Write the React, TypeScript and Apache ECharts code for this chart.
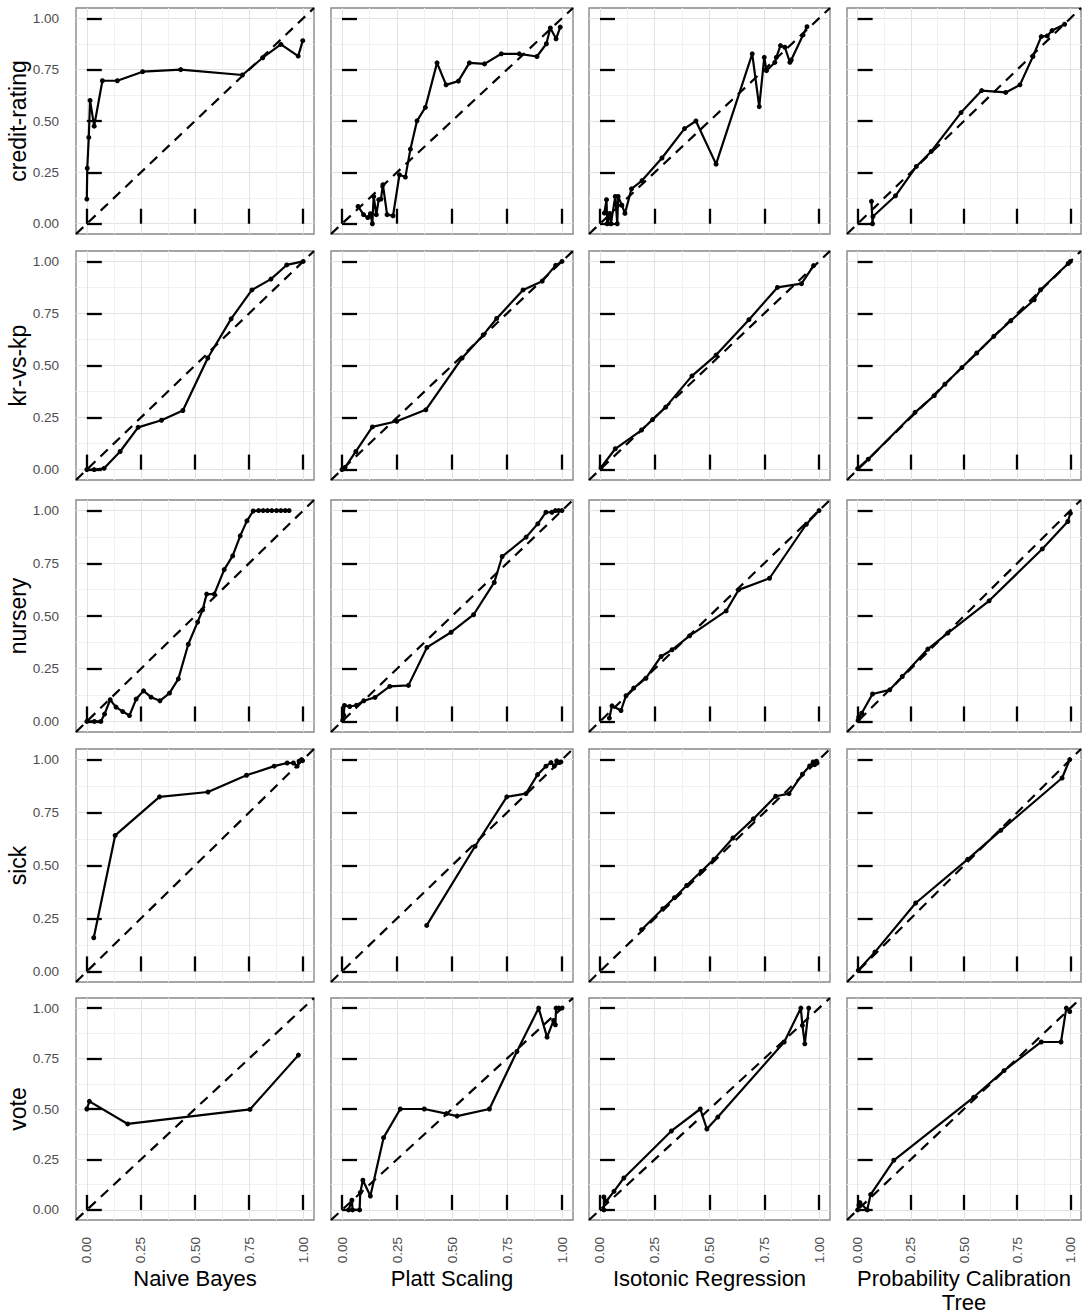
import React, { useEffect, useRef } from "react";
import * as echarts from "echarts";

// ---------- labels ----------
const ROW_NAMES = ["credit-rating", "kr-vs-kp", "nursery", "sick", "vote"];
const COL_NAMES = ["Naive Bayes", "Platt Scaling", "Isotonic Regression", "Probability Calibration\nTree"];
const TICK_VALUES = [0, 0.25, 0.5, 0.75, 1];
const TICK_LABELS = ["0.00", "0.25", "0.50", "0.75", "1.00"];
const MINOR_VALUES = [0.125, 0.375, 0.625, 0.875];
const AXIS_MIN = -0.05;
const AXIS_MAX = 1.05;

// ---------- data: [predicted, observed] ----------
const creditNB = [[0, 0.12], [0.002, 0.27], [0.009, 0.42], [0.015, 0.6], [0.034, 0.475], [0.072, 0.696], [0.141, 0.696], [0.258, 0.74], [0.434, 0.75], [0.719, 0.724], [0.813, 0.808], [0.897, 0.873], [0.977, 0.816], [0.998, 0.891]];
const creditPlatt = [[0.073, 0.084], [0.098, 0.044], [0.117, 0.03], [0.129, 0.049], [0.138, 0.0], [0.144, 0.133], [0.156, 0.044], [0.167, 0.117], [0.177, 0.12], [0.186, 0.19], [0.205, 0.044], [0.232, 0.039], [0.261, 0.238], [0.288, 0.227], [0.311, 0.363], [0.341, 0.501], [0.379, 0.566], [0.432, 0.783], [0.473, 0.676], [0.529, 0.694], [0.579, 0.783], [0.648, 0.778], [0.724, 0.827], [0.806, 0.827], [0.886, 0.814], [0.929, 0.876], [0.947, 0.953], [0.973, 0.9], [0.992, 0.957]];
const creditIso = [[0.02, 0.052], [0.03, 0.117], [0.033, 0.0], [0.045, 0.05], [0.05, 0.0], [0.07, 0.133], [0.079, 0.0], [0.083, 0.133], [0.1, 0.09], [0.114, 0.05], [0.144, 0.17], [0.192, 0.21], [0.283, 0.32], [0.386, 0.463], [0.438, 0.5], [0.53, 0.29], [0.695, 0.827], [0.727, 0.57], [0.75, 0.81], [0.76, 0.745], [0.798, 0.785], [0.805, 0.81], [0.824, 0.867], [0.844, 0.859], [0.867, 0.786], [0.873, 0.797], [0.927, 0.919], [0.945, 0.959]];
const creditPCT = [[0.065, 0.109], [0.07, 0.0], [0.072, 0.035], [0.178, 0.136], [0.276, 0.279], [0.346, 0.352], [0.486, 0.541], [0.583, 0.648], [0.696, 0.639], [0.763, 0.676], [0.824, 0.814], [0.863, 0.911], [0.891, 0.914], [0.914, 0.94], [0.973, 0.971]];

const krNB = [[0, 0], [0.034, 0], [0.08, 0.006], [0.154, 0.087], [0.237, 0.203], [0.345, 0.237], [0.444, 0.284], [0.559, 0.536], [0.667, 0.724], [0.763, 0.863], [0.851, 0.915], [0.924, 0.983], [1.0, 1.0]];
const krPlatt = [[0, 0], [0.014, 0.011], [0.063, 0.087], [0.138, 0.205], [0.249, 0.232], [0.381, 0.287], [0.546, 0.536], [0.642, 0.647], [0.703, 0.726], [0.823, 0.863], [0.91, 0.905], [0.971, 0.981], [1.0, 1.0]];
const krIso = [[0.005, 0.01], [0.07, 0.1], [0.19, 0.19], [0.24, 0.24], [0.3, 0.3], [0.42, 0.45], [0.53, 0.55], [0.68, 0.72], [0.81, 0.875], [0.92, 0.893], [0.975, 0.98]];
const krPCT = [[0, 0.005], [0.05, 0.05], [0.27, 0.275], [0.36, 0.355], [0.41, 0.41], [0.49, 0.49], [0.56, 0.56], [0.64, 0.64], [0.72, 0.715], [0.83, 0.816], [0.86, 0.864], [0.99, 0.99], [1.0, 1.0]];

const nurseryNB = [[0, 0], [0.035, 0], [0.065, 0.0], [0.082, 0.035], [0.108, 0.103], [0.135, 0.068], [0.166, 0.047], [0.197, 0.028], [0.228, 0.106], [0.262, 0.145], [0.297, 0.115], [0.338, 0.098], [0.382, 0.134], [0.423, 0.202], [0.469, 0.366], [0.512, 0.471], [0.535, 0.529], [0.554, 0.604], [0.589, 0.604], [0.635, 0.72], [0.674, 0.785], [0.709, 0.88], [0.74, 0.951], [0.769, 0.998], [0.794, 1], [0.815, 1], [0.835, 1], [0.855, 1], [0.877, 1], [0.897, 1], [0.917, 1], [0.935, 1]];
const nurseryPlatt = [[0.003, 0.005], [0.008, 0.03], [0.011, 0.076], [0.035, 0.071], [0.066, 0.077], [0.099, 0.098], [0.15, 0.114], [0.217, 0.166], [0.302, 0.171], [0.386, 0.351], [0.496, 0.423], [0.598, 0.506], [0.692, 0.659], [0.728, 0.782], [0.837, 0.874], [0.89, 0.937], [0.927, 0.992], [0.954, 0.992], [0.97, 1.0], [0.985, 1.0], [1.0, 1.0]];
const nurseryIso = [[0.043, 0.016], [0.055, 0.074], [0.096, 0.052], [0.119, 0.122], [0.154, 0.158], [0.21, 0.205], [0.279, 0.308], [0.329, 0.34], [0.409, 0.406], [0.576, 0.524], [0.633, 0.624], [0.774, 0.679], [0.942, 0.935], [1.0, 1.0]];
const nurseryPCT = [[0.002, 0.005], [0.005, 0.02], [0.019, 0.039], [0.07, 0.13], [0.151, 0.15], [0.21, 0.213], [0.33, 0.343], [0.424, 0.419], [0.618, 0.572], [0.868, 0.818], [0.988, 0.948], [1.0, 0.987]];

const sickNB = [[0.032, 0.159], [0.131, 0.642], [0.336, 0.824], [0.56, 0.847], [0.738, 0.926], [0.866, 0.969], [0.926, 0.984], [0.955, 0.984], [0.972, 0.969], [0.981, 0.992], [0.992, 1.0], [0.997, 0.995]];
const sickPlatt = [[0.385, 0.217], [0.605, 0.591], [0.749, 0.824], [0.836, 0.839], [0.889, 0.929], [0.927, 0.969], [0.95, 0.986], [0.965, 0.969], [0.976, 0.994], [0.988, 0.986], [0.995, 0.989]];
const sickIso = [[0.19, 0.197], [0.287, 0.296], [0.34, 0.348], [0.396, 0.406], [0.462, 0.472], [0.52, 0.529], [0.607, 0.63], [0.7, 0.72], [0.802, 0.827], [0.863, 0.839], [0.924, 0.931], [0.957, 0.97], [0.973, 0.989], [0.98, 0.976], [0.988, 0.992], [0.991, 0.984]];
const sickPCT = [[0.003, 0.005], [0.081, 0.091], [0.273, 0.323], [0.517, 0.529], [0.673, 0.666], [0.961, 0.913], [0.997, 1.0]];

const voteNB = [[0, 0.5], [0.012, 0.538], [0.189, 0.426], [0.754, 0.498], [0.978, 0.767]];
const votePlatt = [[0.03, 0], [0.045, 0.048], [0.048, 0], [0.08, 0], [0.083, 0.086], [0.095, 0.147], [0.129, 0.069], [0.189, 0.358], [0.265, 0.5], [0.374, 0.5], [0.474, 0.477], [0.523, 0.465], [0.67, 0.5], [0.795, 0.785], [0.894, 1.0], [0.932, 0.856], [0.962, 0.939], [0.97, 0.917], [0.973, 1.0], [0.985, 1.0], [1.0, 1.0]];
const voteIso = [[0.018, 0], [0.018, 0.064], [0.029, 0.043], [0.064, 0.092], [0.109, 0.158], [0.326, 0.391], [0.458, 0.5], [0.488, 0.401], [0.538, 0.46], [0.841, 0.832], [0.917, 1.0], [0.924, 0.914], [0.935, 0.823], [0.953, 1.0]];
const votePCT = [[0.0, 0.0], [0.006, 0.023], [0.011, 0.036], [0.045, 0.0], [0.061, 0.076], [0.17, 0.246], [0.545, 0.558], [0.688, 0.69], [0.863, 0.832], [0.956, 0.832], [0.981, 1.0], [0.997, 0.983]];

const PANEL_DATA = [
  [creditNB, creditPlatt, creditIso, creditPCT],
  [krNB, krPlatt, krIso, krPCT],
  [nurseryNB, nurseryPlatt, nurseryIso, nurseryPCT],
  [sickNB, sickPlatt, sickIso, sickPCT],
  [voteNB, votePlatt, voteIso, votePCT],
];

// ---------- layout ----------
const W = 1082;
const H = 1315;
const COL_LEFT = [76, 331, 589, 847];
const COL_WIDTH = [238, 242, 241, 234];
const ROW_TOP = [8, 251, 500, 749, 998];
const ROW_HEIGHT = [226, 229, 232, 233, 222];
const FONT = '"Liberation Sans", Arial, Helvetica, sans-serif';

function buildOption() {
  const grid: any[] = [];
  const xAxis: any[] = [];
  const yAxis: any[] = [];
  const series: any[] = [];
  const graphic: any[] = [];
  const fmt = (v: number) => {
    const i = TICK_VALUES.indexOf(v);
    return i >= 0 ? TICK_LABELS[i] : v.toFixed(2);
  };

  for (let r = 0; r < ROW_NAMES.length; r++) {
    for (let c = 0; c < COL_NAMES.length; c++) {
      const gi = grid.length;
      grid.push({
        left: COL_LEFT[c],
        top: ROW_TOP[r],
        width: COL_WIDTH[c],
        height: ROW_HEIGHT[r],
        show: true,
        borderColor: "#888888",
        borderWidth: 1.4,
        backgroundColor: "transparent",
      });
      const common = { type: "value", gridIndex: gi, min: AXIS_MIN, max: AXIS_MAX, axisLine: { show: false } };
      xAxis.push({
        ...common,
        position: "bottom",
        axisTick: { show: true, inside: true, length: 15, customValues: TICK_VALUES, lineStyle: { color: "#000", width: 2.3 } },
        axisLabel: {
          show: r === ROW_NAMES.length - 1,
          customValues: TICK_VALUES,
          rotate: 90,
          margin: 17,
          color: "#4d4d4d",
          fontSize: 13.5,
          fontFamily: FONT,
          formatter: fmt,
        },
        splitLine: { show: true, lineStyle: { color: "#e2e2e2", width: 1 } },
      });
      xAxis.push({
        ...common,
        position: "top",
        axisTick: { show: false, customValues: MINOR_VALUES },
        axisLabel: { show: false, customValues: MINOR_VALUES },
        splitLine: { show: true, lineStyle: { color: "#f1f1f1", width: 1 } },
      });
      yAxis.push({
        ...common,
        position: "left",
        axisTick: { show: true, inside: true, length: 15, customValues: TICK_VALUES, lineStyle: { color: "#000", width: 2.3 } },
        axisLabel: {
          show: c === 0,
          customValues: TICK_VALUES,
          margin: 17,
          color: "#4d4d4d",
          fontSize: 13.5,
          fontFamily: FONT,
          formatter: fmt,
        },
        splitLine: { show: true, lineStyle: { color: "#e2e2e2", width: 1 } },
      });
      yAxis.push({
        ...common,
        position: "right",
        axisTick: { show: false, customValues: MINOR_VALUES },
        axisLabel: { show: false, customValues: MINOR_VALUES },
        splitLine: { show: true, lineStyle: { color: "#f1f1f1", width: 1 } },
      });
      const ax = 2 * gi;
      series.push({
        type: "line",
        xAxisIndex: ax,
        yAxisIndex: ax,
        data: [[AXIS_MIN, AXIS_MIN], [AXIS_MAX, AXIS_MAX]],
        symbol: "none",
        silent: true,
        lineStyle: { color: "#000", width: 2.2, type: [10, 7] },
        z: 3,
      });
      series.push({
        type: "line",
        xAxisIndex: ax,
        yAxisIndex: ax,
        data: PANEL_DATA[r][c],
        symbol: "circle",
        symbolSize: 5,
        lineStyle: { color: "#000", width: 2.2 },
        itemStyle: { color: "#000" },
        z: 4,
      });
    }
    graphic.push({
      type: "text",
      x: 18,
      y: ROW_TOP[r] + ROW_HEIGHT[r] / 2,
      rotation: Math.PI / 2,
      style: {
        text: ROW_NAMES[r],
        fontSize: 23,
        fontFamily: FONT,
        fill: "#000",
        align: "center",
        verticalAlign: "middle",
        textAlign: "center",
        textVerticalAlign: "middle",
      },
    });
  }
  for (let c = 0; c < COL_NAMES.length; c++) {
    graphic.push({
      type: "text",
      x: COL_LEFT[c] + COL_WIDTH[c] / 2,
      y: 1266,
      style: {
        text: COL_NAMES[c],
        fontSize: 22,
        lineHeight: 24,
        fontFamily: FONT,
        fill: "#000",
        align: "center",
        verticalAlign: "top",
        textAlign: "center",
        textVerticalAlign: "top",
      },
    });
  }

  return {
    animation: false,
    backgroundColor: "#ffffff",
    grid,
    xAxis,
    yAxis,
    series,
    graphic,
  };
}

export default function App() {
  const ref = useRef<HTMLDivElement>(null);
  useEffect(() => {
    document.body.style.margin = "0";
    if (!ref.current) return;
    const chart = echarts.init(ref.current, undefined, { renderer: "svg" });
    chart.setOption(buildOption() as any);
    return () => chart.dispose();
  }, []);
  return (
    <div
      ref={ref}
      style={{ position: "fixed", left: 0, top: 0, width: W, height: H, overflow: "hidden", background: "#fff" }}
    />
  );
}
